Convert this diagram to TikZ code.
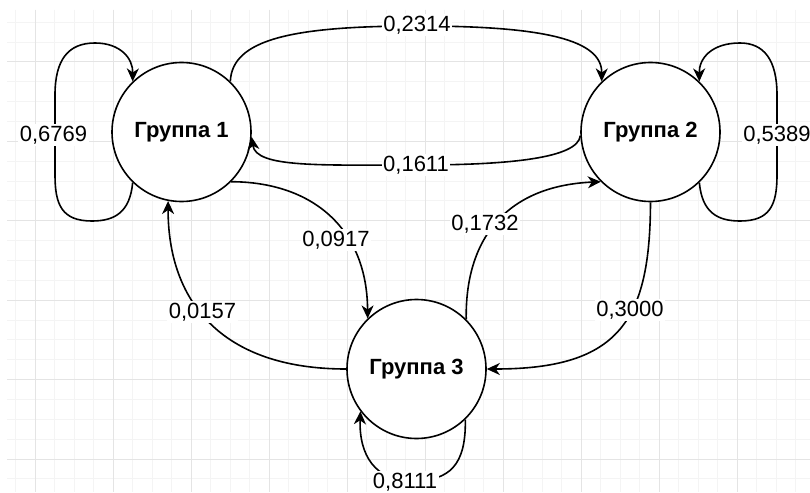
\documentclass[tikz,border=0pt]{standalone}
\usepackage{fontspec}
\setmainfont{Liberation Sans}
\usetikzlibrary{arrows.meta}
\definecolor{minorg}{RGB}{244,244,244}
\definecolor{majorg}{RGB}{228,228,228}
\tikzset{
  grp/.style={circle, draw=black, line width=1.6pt, fill=white, minimum size=139pt, inner sep=0pt,
              font=\bfseries\fontsize{22}{26}\selectfont},
  lbl/.style={fill=white, inner sep=1.5pt, font=\fontsize{22}{26}\selectfont},
  edge/.style={line width=1.6pt, -{Stealth[length=13pt,width=12pt,inset=4pt]}},
  minorline/.style={draw=minorg, line width=1pt},
  majorline/.style={draw=majorg, line width=1pt}
}
\begin{document}
\begin{tikzpicture}[x=1pt,y=-1pt]
\useasboundingbox (0,0) rectangle (810,492);
\clip (0,0) rectangle (810,492);
\fill[white] (0,0) rectangle (810,492);
% grid
\begin{scope}
\clip (7,10) rectangle (810,492);
\foreach \i in {-1,...,40} \draw[minorline] ({35+19.5*\i},10) -- ({35+19.5*\i},492);
\foreach \j in {-3,...,23} \draw[minorline] (7,{62+19.85*\j}) -- (810,{62+19.85*\j});
\foreach \i in {0,...,9} \draw[majorline] ({35+78*\i},10) -- ({35+78*\i},492);
\foreach \j in {0,...,5} \draw[majorline] (7,{62+79.4*\j}) -- (810,{62+79.4*\j});
\end{scope}
% nodes
\node[grp] (g1) at (181.5,132) {Группа 1};
\node[grp] (g2) at (650.5,132) {Группа 2};
\node[grp] (g3) at (416.5,369) {Группа 3};
% edges
\draw[edge] (g1.226) .. controls (130,212) and (115,221) .. (92,221)
  .. controls (62,221) and (55,205) .. (55,175) -- (55,95)
  .. controls (55,60) and (68,43) .. (95,43)
  .. controls (120,43) and (133,58) .. (g1.134);
\draw[edge] (g1.46) .. controls (232,40) and (290,26) .. (418,26)
  .. controls (545,26) and (602,40) .. (g2.134);
\draw[edge] (g2.183) .. controls (578,158) and (510,165) .. (418,165)
  .. controls (320,165) and (256,168) .. (g1.356);
\draw[edge] (g1.-45) .. controls (312,182) and (367,228) .. (g3.134);
\draw[edge] (g3.180) .. controls (220,369) and (168,300) .. (g1.259);
\draw[edge] (g3.45) .. controls (465,240) and (505,186) .. (g2.225);
\draw[edge] (g2.270) .. controls (650,320) and (620,369) .. (g3.0);
\draw[edge] (g2.-46) .. controls (702,212) and (717,221) .. (740,221)
  .. controls (770,221) and (777,205) .. (777,175) -- (777,95)
  .. controls (777,60) and (764,43) .. (740,43)
  .. controls (712,43) and (699,58) .. (g2.46);
\draw[edge] (g3.-46) .. controls (466,465) and (450,481) .. (412,481)
  .. controls (375,481) and (359,455) .. (g3.217);
% labels
\node[lbl] (l1) at (53.5,135) {0,6769};
\node[lbl] (l2) at (417,25) {0,2314};
\node[lbl] (l3) at (416,165) {0,1611};
\node[lbl] (l4) at (336,240) {0,0917};
\node[lbl] (l5) at (485,224) {0,1732};
\node[lbl] (l6) at (202.5,312) {0,0157};
\node[lbl] (l7) at (630,310) {0,3000};
\node[lbl] (l8) at (777,135) {0,5389};
\node[lbl] (l9) at (405,482) {0,8111};
\end{tikzpicture}
\end{document}
